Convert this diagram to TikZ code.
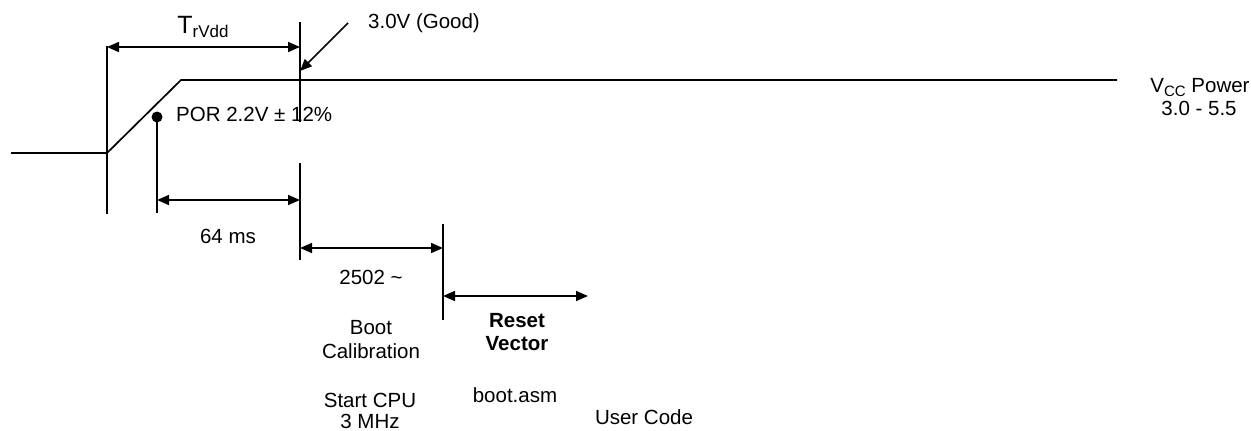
\documentclass[tikz,border=0pt]{standalone}
\usepackage{fontspec}
\setmainfont{Liberation Sans}
\usetikzlibrary{arrows.meta}
\tikzset{
  wire/.style={line width=1.7pt},
  dim/.style={line width=1.7pt,{Triangle[length=12pt,width=10pt]}-{Triangle[length=12pt,width=10pt]}},
  ptr/.style={line width=1.7pt,-{Triangle[length=12pt,width=10pt]}},
  lbl/.style={inner sep=0pt,anchor=base,font=\fontsize{20.5}{23}\selectfont},
}
\begin{document}
\begin{tikzpicture}[x=1pt,y=-1pt]
\clip (0,0) rectangle (1251,431);
\fill[white] (0,0) rectangle (1251,431);
% signal coordinates
\coordinate (s0) at (11,153);
\coordinate (s1) at (107,153);
\coordinate (s2) at (181,80);
\coordinate (s3) at (1117,80);
\draw[wire] (s0) -- (s1) -- (s2) -- (s3);
% vertical markers
\coordinate (a1) at (107,46); \coordinate (a2) at (107,214);
\draw[wire] (a1) -- (a2);
\coordinate (b1) at (300,22); \coordinate (b2) at (300,122);
\draw[wire] (b1) -- (b2);
\coordinate (b3) at (300,163); \coordinate (b4) at (300,260);
\draw[wire] (b3) -- (b4);
\coordinate (c1) at (443,224); \coordinate (c2) at (443,320);
\draw[wire] (c1) -- (c2);
% POR dot
\coordinate (p0) at (157,117); \coordinate (p1) at (157,213);
\draw[wire] (p0) -- (p1);
\fill (p0) circle (5.5);
% dimension arrows
\coordinate (t1) at (107,47); \coordinate (t2) at (300,47);
\draw[dim] (t1) -- (t2);
\coordinate (m1) at (157,200); \coordinate (m2) at (300,200);
\draw[dim] (m1) -- (m2);
\coordinate (k1) at (300,248); \coordinate (k2) at (443,248);
\draw[dim] (k1) -- (k2);
\coordinate (r1) at (443,296); \coordinate (r2) at (588,296);
\draw[dim] (r1) -- (r2);
% 3.0V pointer
\coordinate (g1) at (348,23); \coordinate (g2) at (300,71);
\draw[ptr] (g1) -- (g2);
% labels
\node[lbl] (trvdd) at (203,33) {\fontsize{25}{28}\selectfont T\raisebox{-5pt}{\fontsize{17}{19}\selectfont rVdd}};
\node[lbl] (good) at (424,28) {3.0V (Good)};
\node[lbl,anchor=base west] (por) at (176,121) {POR 2.2V ± 12\%};
\node[lbl] (ms) at (228,243) {64 ms};
\node[lbl] (cyc) at (371,284) {2502 \textasciitilde};
\node[lbl] (boot1) at (371,334) {Boot};
\node[lbl] (boot2) at (371,358) {Calibration};
\node[lbl] (cpu1) at (370,407) {Start CPU};
\node[lbl] (cpu2) at (370,428) {3 MHz};
\node[lbl,font=\fontsize{20.5}{23}\selectfont\bfseries] (rv1) at (517,327) {Reset};
\node[lbl,font=\fontsize{20.5}{23}\selectfont\bfseries] (rv2) at (517,350) {Vector};
\node[lbl] (asm) at (515,402) {boot.asm};
\node[lbl] (user) at (644,424) {User Code};
\node[lbl] (vcc1) at (1200,92) {V\raisebox{-4pt}{\fontsize{15}{17}\selectfont CC} Power};
\node[lbl] (vcc2) at (1199,115) {3.0 - 5.5};
\end{tikzpicture}
\end{document}
